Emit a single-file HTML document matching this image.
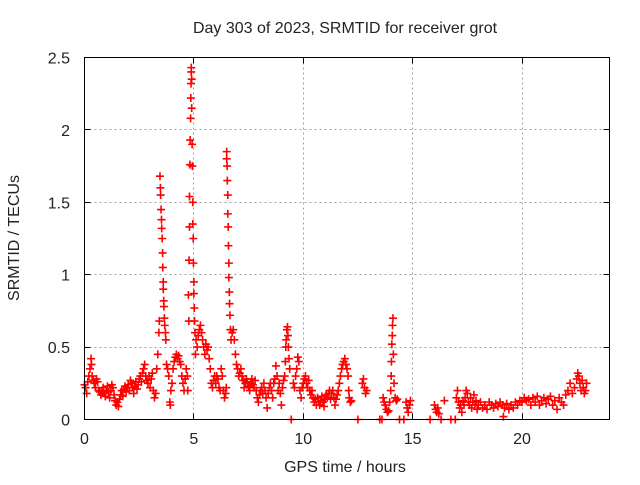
<!DOCTYPE html>
<html><head><meta charset="utf-8"><style>
html,body{margin:0;padding:0;background:#fff;}
svg text{font-family:"Liberation Sans",sans-serif;font-size:16px;fill:#222;}
</style></head><body>
<svg id="chart" width="640" height="480" xmlns="http://www.w3.org/2000/svg">
<rect width="640" height="480" fill="#fff"/>
<text x="345" y="33" text-anchor="middle">Day 303 of 2023, SRMTID for receiver grot</text>
<text x="345" y="472" text-anchor="middle">GPS time / hours</text>
<text x="0" y="0" transform="translate(19,238) rotate(-90)" text-anchor="middle">SRMTID / TECUs</text>
<g id="grid"></g>
<g id="ticks"></g>
<g id="points"></g>
<rect x="84.5" y="57.5" width="525" height="362" fill="none" stroke="#000" stroke-width="1"/>
</svg>
<script>
const xTicks = [0, 5, 10, 15, 20];
const yTicks = [0, 0.5, 1, 1.5, 2, 2.5];
const yTickLabels = ["0", "0.5", "1", "1.5", "2", "2.5"];
const times = [0.0,0.05,0.1,0.15,0.2,0.25,0.3,0.32,0.35,0.4,0.45,0.5,0.55,0.6,0.65,0.7,0.75,0.8,0.85,0.9,0.95,1.0,1.05,1.1,1.15,1.2,1.25,1.3,1.35,1.4,1.45,1.5,1.55,1.6,1.65,1.7,1.75,1.8,1.85,1.9,1.95,2.0,2.05,2.1,2.15,2.2,2.25,2.3,2.35,2.4,2.45,2.5,2.55,2.6,2.65,2.7,2.75,2.8,2.85,2.9,2.95,3.0,3.05,3.1,3.15,3.2,3.25,3.3,3.35,3.4,3.42,3.45,3.47,3.48,3.5,3.52,3.53,3.55,3.57,3.58,3.6,3.6,3.62,3.63,3.65,3.67,3.7,3.72,3.75,3.8,3.85,3.9,3.92,3.95,4.0,4.05,4.1,4.15,4.2,4.25,4.3,4.35,4.4,4.45,4.5,4.55,4.6,4.65,4.7,4.72,4.75,4.77,4.78,4.8,4.8,4.82,4.83,4.85,4.86,4.87,4.88,4.88,4.9,4.9,4.92,4.93,4.95,4.95,4.97,4.98,5.0,5.0,5.02,5.03,5.05,5.07,5.1,5.15,5.2,5.25,5.3,5.35,5.4,5.45,5.5,5.55,5.6,5.65,5.7,5.75,5.8,5.85,5.9,5.95,6.0,6.05,6.1,6.15,6.2,6.25,6.3,6.35,6.4,6.45,6.48,6.5,6.5,6.52,6.53,6.55,6.55,6.57,6.58,6.6,6.6,6.62,6.63,6.65,6.67,6.7,6.75,6.8,6.85,6.9,6.95,7.0,7.05,7.1,7.15,7.2,7.25,7.3,7.35,7.4,7.45,7.5,7.55,7.6,7.65,7.7,7.75,7.8,7.85,7.9,7.95,8.0,8.05,8.1,8.15,8.2,8.25,8.3,8.35,8.4,8.45,8.5,8.55,8.6,8.65,8.7,8.75,8.8,8.85,8.9,8.95,9.0,9.05,9.1,9.15,9.18,9.2,9.22,9.25,9.28,9.3,9.32,9.35,9.38,9.45,9.55,9.6,9.65,9.7,9.75,9.8,9.85,9.9,9.95,10.0,10.05,10.1,10.15,10.2,10.25,10.3,10.35,10.4,10.45,10.5,10.55,10.6,10.65,10.7,10.75,10.8,10.85,10.9,10.95,11.0,11.05,11.1,11.15,11.2,11.25,11.3,11.35,11.4,11.45,11.5,11.55,11.6,11.65,11.7,11.75,11.8,11.85,11.9,11.95,12.0,12.05,12.08,12.1,12.15,12.2,12.5,12.7,12.75,12.8,12.85,12.9,13.5,13.6,13.65,13.7,13.75,13.8,13.85,13.9,13.95,14.0,14.02,14.03,14.05,14.07,14.08,14.1,14.12,14.15,14.2,14.25,14.3,14.4,14.6,14.7,14.75,14.8,14.85,14.9,15.8,16.0,16.05,16.1,16.15,16.2,16.3,16.45,16.75,16.95,17.0,17.05,17.1,17.15,17.2,17.25,17.3,17.35,17.4,17.45,17.5,17.55,17.6,17.65,17.7,17.75,17.8,17.85,17.9,17.95,18.0,18.1,18.2,18.3,18.4,18.5,18.6,18.7,18.8,18.9,19.0,19.1,19.15,19.2,19.3,19.4,19.5,19.6,19.7,19.8,19.9,20.0,20.1,20.2,20.3,20.4,20.5,20.6,20.7,20.8,20.9,21.0,21.1,21.2,21.3,21.4,21.5,21.6,21.7,21.8,21.9,22.0,22.1,22.2,22.3,22.4,22.5,22.55,22.6,22.65,22.7,22.75,22.8,22.85,22.9,22.95];
const srmtid = [.24,.22,.18,.26,.3,.35,.42,.38,.3,.27,.25,.22,.28,.26,.2,.19,.17,.2,.22,.18,.16,.2,.23,.19,.15,.2,.24,.22,.17,.13,.1,.12,.09,.14,.17,.2,.16,.21,.23,.19,.22,.24,.2,.27,.25,.22,.18,.23,.26,.21,.24,.28,.3,.26,.32,.35,.38,.3,.27,.25,.3,.22,.28,.32,.2,.15,.18,.35,.45,.6,.68,1.68,1.6,1.55,1.45,1.38,1.32,1.25,1.15,1.05,.95,.9,.82,.78,.7,.65,.6,.55,.38,.35,.3,.12,.1,.2,.25,.35,.4,.43,.45,.42,.44,.4,.38,.3,.25,.2,.28,.35,.3,.2,.86,.68,1.1,1.33,1.54,1.76,1.93,2.08,2.22,2.32,2.4,2.43,2.35,2.15,1.9,1.75,1.5,1.35,1.25,1.08,.95,.87,.77,.68,.6,.45,.55,.5,.58,.62,.65,.6,.55,.5,.45,.52,.48,.5,.42,.35,.25,.22,.27,.3,.25,.3,.28,.22,.2,.35,.3,.2,.15,.18,.22,1.85,1.8,1.75,1.65,1.55,1.42,1.33,1.2,1.08,.98,.88,.8,.72,.62,.55,.6,.62,.55,.45,.38,.35,.3,.32,.35,.3,.27,.22,.25,.28,.26,.23,.2,.25,.28,.24,.22,.27,.2,.15,.12,.17,.2,.22,.18,.25,.2,.15,.08,.18,.22,.25,.2,.15,.25,.28,.37,.3,.2,.25,.18,.1,.22,.27,.3,.4,.5,.55,.62,.64,.58,.5,.42,.35,0,.25,.22,.3,.35,.43,.4,.2,.15,.22,.25,.28,.3,.25,.22,.27,.2,.17,.2,.15,.12,.14,.1,.15,.12,.1,.13,.16,.12,.09,.14,.17,.15,.18,.2,.14,.18,.2,.15,.1,.14,.17,.2,.25,.3,.35,.38,.4,.42,.38,.35,.3,.2,.15,.12,.13,0,.25,.28,.22,.18,.2,0,0,.15,.12,.1,.07,.05,.06,.12,.2,.3,.4,.52,.58,.65,.7,.45,.25,.15,.13,.14,0,0,.12,.08,.05,.1,.13,0,.1,.07,.05,.08,.04,0,.13,0,0,.15,.2,.12,.08,.1,.05,.13,.1,.15,.2,.18,.12,.1,.15,.08,.12,.17,.1,.13,.07,.1,.12,.08,.1,.07,.12,.1,.08,.11,.09,.12,.1,.02,.08,.11,.07,.1,.08,.12,.1,.13,.12,.15,.13,.14,.1,.15,.12,.16,.1,.13,.15,.11,.14,.16,.1,.13,.07,.15,.12,.1,.17,.2,.25,.18,.22,.28,.32,.3,.25,.2,.27,.22,.18,.2,.25];

const X0 = 84.5, X1 = 609.5, Y0 = 419.5, Y1 = 57.5;
const xMin = 0, xMax = 24, yMin = 0, yMax = 2.5;
function xs(v){ return X0 + (v - xMin) / (xMax - xMin) * (X1 - X0); }
function ys(v){ return Y0 - (v - yMin) / (yMax - yMin) * (Y0 - Y1); }
const NS = "http://www.w3.org/2000/svg";
function mk(tag, attrs, parent){ const e = document.createElementNS(NS, tag); for (const k in attrs) e.setAttribute(k, attrs[k]); parent.appendChild(e); return e; }
const grid = document.getElementById('grid'), ticks = document.getElementById('ticks'), pts = document.getElementById('points');
const svg = document.getElementById('chart');

xTicks.forEach(t => {
  const x = Math.round(xs(t) - 0.5) + 0.5;
  if (t > xMin && t < xMax) {
    const g = mk('line', {x1:x, x2:x, y1:Y1, y2:Y0, stroke:'#a0a0a0', 'stroke-dasharray':'2,3', 'stroke-width':1}, grid);
    
    
  }
  const a = mk('line', {x1:x, x2:x, y1:Y0, y2:Y0 - 6, stroke:'#000'}, ticks);
  
  
  const b = mk('line', {x1:x, x2:x, y1:Y1, y2:Y1 + 6, stroke:'#000'}, ticks);
  
  
  const l = mk('text', {x:xs(t), y:444, 'text-anchor':'middle'}, svg);
  l.textContent = String(t);
  
  
});
yTicks.forEach((t, i) => {
  const y = Math.round(ys(t) - 0.5) + 0.5;
  if (t > yMin && t < yMax) {
    const g = mk('line', {x1:X0, x2:X1, y1:y, y2:y, stroke:'#a0a0a0', 'stroke-dasharray':'2,3', 'stroke-width':1}, grid);
    
    
  }
  const a = mk('line', {x1:X0, x2:X0 + 6, y1:y, y2:y, stroke:'#000'}, ticks);
  
  
  const b = mk('line', {x1:X1, x2:X1 - 6, y1:y, y2:y, stroke:'#000'}, ticks);
  
  
  const l = mk('text', {x:70, y:ys(t) + 6, 'text-anchor':'end'}, svg);
  l.textContent = yTickLabels[i];
  
  
});
times.forEach((t, i) => {
  const x = xs(t), y = ys(srmtid[i]);
  const p = mk('path', {d:`M${x-4},${y}h8M${x},${y-4}v8`, stroke:'#ff0000', 'stroke-width':1.6, fill:'none'}, pts);
  
  
});
</script>
</body></html>
